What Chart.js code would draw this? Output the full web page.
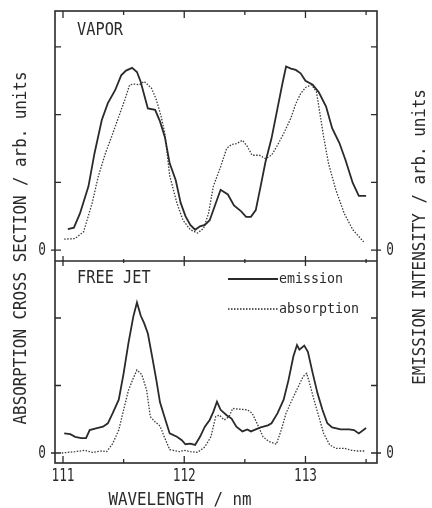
<!DOCTYPE html>
<html>
<head>
<meta charset="utf-8">
<script src="https://cdn.jsdelivr.net/npm/chart.js@4.4.1/dist/chart.umd.min.js"></script>
<style>
  html, body { margin: 0; padding: 0; background: #fff; }
  #wrap { width: 432px; height: 508px; }
</style>
</head>
<body>
<div id="wrap"><canvas id="c" width="432" height="508"></canvas></div>
<script>
// ---- VAPOR panel (wavelength in nm, arbitrary units) ----
const vaporEmWl = [111.04,111.09,111.14,111.21,111.26,111.32,111.37,111.43,111.48,111.52,111.57,111.61,111.64,111.67,111.70,111.76,111.80,111.84,111.88,111.93,111.97,112.01,112.05,112.09,112.13,112.17,112.21,112.26,112.30,112.36,112.41,112.47,112.51,112.55,112.59,112.63,112.67,112.72,112.77,112.81,112.84,112.88,112.92,112.96,113.00,113.06,113.11,113.17,113.22,113.28,113.33,113.39,113.44,113.50];
const vaporEm   = [0.31,0.33,0.54,0.94,1.43,1.92,2.17,2.36,2.58,2.65,2.69,2.63,2.49,2.29,2.09,2.07,1.90,1.67,1.28,1.03,0.70,0.50,0.37,0.30,0.35,0.37,0.44,0.69,0.89,0.82,0.66,0.57,0.49,0.49,0.59,0.94,1.30,1.65,2.10,2.46,2.71,2.68,2.66,2.61,2.50,2.44,2.33,2.12,1.80,1.58,1.33,0.99,0.80,0.80];

const vaporAbWl = [111.01,111.10,111.17,111.24,111.29,111.35,111.40,111.46,111.51,111.55,111.59,111.63,111.67,111.73,111.77,111.81,111.84,111.88,111.94,111.99,112.05,112.11,112.16,112.20,112.24,112.30,112.35,112.39,112.43,112.48,112.52,112.56,112.62,112.67,112.72,112.77,112.82,112.88,112.92,112.96,113.00,113.05,113.09,113.11,113.15,113.19,113.25,113.32,113.39,113.43,113.48];
const vaporAb   = [0.16,0.17,0.27,0.69,1.08,1.43,1.67,1.97,2.22,2.44,2.45,2.44,2.49,2.39,2.22,1.97,1.72,1.10,0.69,0.44,0.30,0.25,0.32,0.54,0.94,1.23,1.50,1.56,1.57,1.62,1.53,1.40,1.40,1.35,1.40,1.55,1.72,1.95,2.16,2.31,2.40,2.44,2.34,2.12,1.67,1.28,0.89,0.54,0.30,0.22,0.12];

// ---- FREE JET panel ----
const jetEmWl = [111.01,111.06,111.10,111.15,111.19,111.22,111.28,111.33,111.37,111.41,111.46,111.50,111.54,111.58,111.61,111.64,111.67,111.70,111.73,111.77,111.80,111.84,111.88,111.94,111.98,112.01,112.05,112.09,112.13,112.17,112.21,112.24,112.27,112.30,112.35,112.39,112.43,112.48,112.52,112.55,112.59,112.63,112.69,112.72,112.77,112.82,112.86,112.90,112.93,112.95,112.99,113.02,113.06,113.10,113.14,113.18,113.22,113.29,113.36,113.40,113.44,113.50];
const jetEm   = [0.29,0.28,0.24,0.22,0.22,0.34,0.37,0.39,0.44,0.59,0.79,1.18,1.63,2.02,2.23,2.04,1.92,1.77,1.48,1.08,0.75,0.52,0.29,0.24,0.19,0.13,0.14,0.12,0.24,0.39,0.49,0.61,0.76,0.64,0.56,0.51,0.39,0.32,0.35,0.32,0.35,0.38,0.41,0.44,0.59,0.79,1.08,1.43,1.60,1.53,1.59,1.50,1.18,0.88,0.64,0.44,0.38,0.35,0.35,0.34,0.29,0.37];

const jetAbWl = [110.99,111.10,111.18,111.24,111.32,111.36,111.41,111.46,111.50,111.54,111.58,111.61,111.65,111.69,111.72,111.76,111.80,111.84,111.88,111.96,112.00,112.05,112.11,112.17,112.22,112.26,112.29,112.33,112.37,112.40,112.45,112.52,112.56,112.60,112.65,112.70,112.76,112.80,112.84,112.90,112.94,112.98,113.01,113.03,113.07,113.11,113.15,113.20,113.25,113.32,113.38,113.43,113.49];
const jetAb   = [0.00,0.02,0.04,0.01,0.03,0.02,0.14,0.34,0.64,0.93,1.11,1.23,1.16,0.93,0.54,0.46,0.40,0.22,0.05,0.02,0.04,0.02,0.01,0.09,0.24,0.54,0.56,0.49,0.54,0.66,0.65,0.64,0.59,0.44,0.24,0.17,0.13,0.34,0.59,0.83,0.98,1.13,1.18,1.06,0.79,0.54,0.29,0.12,0.07,0.07,0.04,0.03,0.03];

// ---- axis texts ----
const xTickLabels = { 111: '111', 112: '112', 113: '113' };
const panelNames = ['VAPOR', 'FREE JET'];
const seriesNames = ['emission', 'absorption'];
const leftTitle = 'ABSORPTION CROSS SECTION / arb. units';
const rightTitle = 'EMISSION INTENSITY / arb. units';
const xTitle = 'WAVELENGTH / nm';

const INK = '#2a2a2a';
const FONT = '"DejaVu Sans Mono", "Liberation Mono", monospace';

const pts = (xs, ys) => xs.map((x, i) => ({ x, y: ys[i] }));

// condensed plotter-style text
function txt(ctx, s, x, y, size, sx, rot, align) {
  ctx.save();
  ctx.translate(x, y);
  if (rot) ctx.rotate(rot);
  ctx.scale(sx, 1);
  ctx.font = size + 'px ' + FONT;
  ctx.fillStyle = INK;
  ctx.textAlign = align || 'center';
  ctx.textBaseline = 'middle';
  ctx.fillText(s, 0, 0);
  ctx.restore();
}

function tickValues(scale, step) {
  const out = [];
  for (let v = Math.ceil(scale.min / step - 1e-9) * step; v <= scale.max + 1e-9; v += step) {
    out.push(Math.round(v * 1000) / 1000);
  }
  return out;
}

const framePlugin = {
  id: 'frame',
  afterDatasetsDraw(chart) {
    const ctx = chart.ctx;
    const ca = chart.chartArea;
    const xs = chart.scales.x;
    const yT = chart.scales.yTop, yB = chart.scales.yBot;
    const mid = yT.bottom;

    ctx.save();
    ctx.strokeStyle = INK;
    ctx.lineWidth = 1.6;
    ctx.strokeRect(ca.left, ca.top, ca.right - ca.left, ca.bottom - ca.top);
    ctx.beginPath();
    ctx.moveTo(ca.left, mid); ctx.lineTo(ca.right, mid);
    ctx.stroke();

    // wavelength ticks on bottom, divider and top edges
    ctx.lineWidth = 1.3;
    ctx.beginPath();
    tickValues(xs, 0.5).forEach(v => {
      const px = xs.getPixelForValue(v);
      const len = Number.isInteger(v) ? 7 : 4;
      ctx.moveTo(px, ca.bottom); ctx.lineTo(px, ca.bottom - len);
      ctx.moveTo(px, ca.top); ctx.lineTo(px, ca.top + len);
      ctx.moveTo(px, mid - len + 2); ctx.lineTo(px, mid + len - 2);
    });
    // intensity ticks, both panels, both sides
    [yT, yB].forEach(s => {
      tickValues(s, 1).forEach(v => {
        const py = s.getPixelForValue(v);
        const out = v === 0 ? 4 : 0;
        ctx.moveTo(ca.left - out, py); ctx.lineTo(ca.left + 6, py);
        ctx.moveTo(ca.right + out, py); ctx.lineTo(ca.right - 6, py);
      });
    });
    ctx.stroke();

    // tick labels
    tickValues(xs, 0.5).forEach(v => {
      if (xTickLabels[v]) txt(ctx, xTickLabels[v], xs.getPixelForValue(v), ca.bottom + 14, 17, 0.75);
    });
    [yT, yB].forEach(s => {
      const py = s.getPixelForValue(0);
      txt(ctx, '0', ca.left - 13, py + 1, 17, 0.75);
      txt(ctx, '0', ca.right + 13, py + 1, 17, 0.75);
    });

    // axis titles
    txt(ctx, leftTitle, 21, 248, 18, 0.88, -Math.PI / 2);
    txt(ctx, rightTitle, 420, 237, 18, 0.88, -Math.PI / 2);
    txt(ctx, xTitle, 180, 500, 18, 0.88);

    // panel names
    txt(ctx, panelNames[0], ca.left + 22, yT.top + 19, 18, 0.85, 0, 'left');
    txt(ctx, panelNames[1], ca.left + 22, yB.top + 17, 18, 0.85, 0, 'left');

    // key in the lower panel
    const kx0 = 228, kx1 = 278;
    const ky1 = yB.top + 18, ky2 = yB.top + 48;
    ctx.strokeStyle = INK;
    ctx.lineWidth = 1.8;
    ctx.setLineDash([]);
    ctx.beginPath(); ctx.moveTo(kx0, ky1); ctx.lineTo(kx1, ky1); ctx.stroke();
    ctx.lineWidth = 1.3;
    ctx.setLineDash([1.5, 1.5]);
    ctx.beginPath(); ctx.moveTo(kx0, ky2); ctx.lineTo(kx1, ky2); ctx.stroke();
    ctx.setLineDash([]);
    txt(ctx, seriesNames[0], kx1 + 1, ky1, 14, 0.95, 0, 'left');
    txt(ctx, seriesNames[1], kx1 + 1, ky2, 14, 0.95, 0, 'left');
    ctx.restore();
  }
};

const solid = { borderColor: INK, borderWidth: 1.8, pointRadius: 0, tension: 0, fill: false };
const dotted = { borderColor: '#3a3a3a', borderWidth: 1.3, borderDash: [1.5, 1.5], pointRadius: 0, tension: 0, fill: false };

const hiddenAxis = { ticks: { display: false, includeBounds: false }, grid: { display: false }, border: { display: false } };

new Chart(document.getElementById('c'), {
  type: 'line',
  data: {
    datasets: [
      Object.assign({ label: seriesNames[0], data: pts(vaporEmWl, vaporEm), yAxisID: 'yTop' }, solid),
      Object.assign({ label: seriesNames[1], data: pts(vaporAbWl, vaporAb), yAxisID: 'yTop' }, dotted),
      Object.assign({ label: seriesNames[0], data: pts(jetEmWl, jetEm), yAxisID: 'yBot' }, solid),
      Object.assign({ label: seriesNames[1], data: pts(jetAbWl, jetAb), yAxisID: 'yBot' }, dotted)
    ]
  },
  options: {
    responsive: false,
    devicePixelRatio: 1,
    animation: false,
    layout: { padding: { top: 11, left: 0, right: 0, bottom: 0 } },
    plugins: { legend: { display: false }, tooltip: { enabled: false } },
    scales: {
      x: Object.assign({ type: 'linear', position: 'bottom', min: 110.934, max: 113.59,
        afterFit(s) { s.height = 45; } }, hiddenAxis),
      yTop: Object.assign({ type: 'linear', position: 'left', stack: 'L', stackWeight: 250, weight: 1,
        min: -0.162, max: 3.53, afterFit(s) { s.width = 55; } }, hiddenAxis),
      yBot: Object.assign({ type: 'linear', position: 'left', stack: 'L', stackWeight: 202, weight: 0,
        min: -0.148, max: 2.844, afterFit(s) { s.width = 55; } }, hiddenAxis),
      yTopR: Object.assign({ type: 'linear', position: 'right', stack: 'R', stackWeight: 250, weight: 0,
        min: -0.162, max: 3.53, afterFit(s) { s.width = 55; } }, hiddenAxis),
      yBotR: Object.assign({ type: 'linear', position: 'right', stack: 'R', stackWeight: 202, weight: 1,
        min: -0.148, max: 2.844, afterFit(s) { s.width = 55; } }, hiddenAxis)
    }
  },
  plugins: [framePlugin]
});
</script>
</body>
</html>
